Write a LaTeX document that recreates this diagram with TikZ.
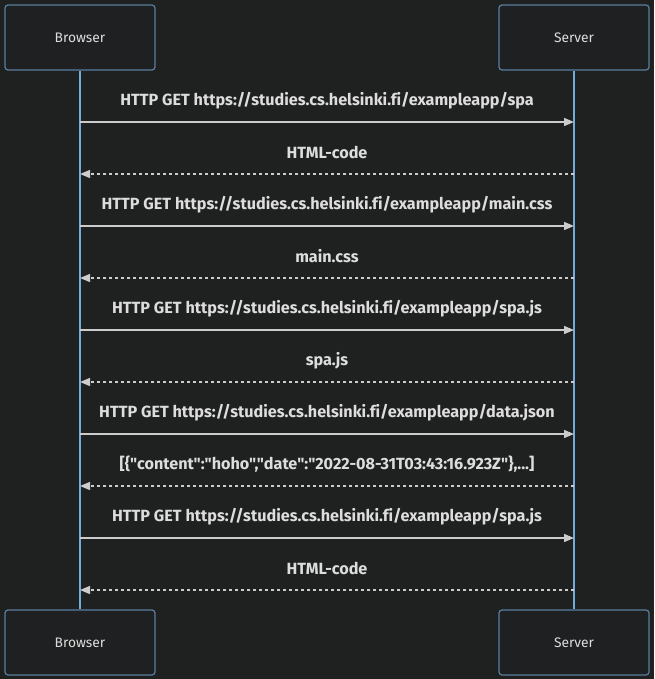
\documentclass[tikz,border=0pt]{standalone}
\usepackage{fontspec}
\setmainfont[Ligatures={TeXOff,NoCommon}]{Fira Sans}
\usetikzlibrary{arrows.meta}
\definecolor{bg}{HTML}{1F2020}
\definecolor{boxfill}{HTML}{1F2021}
\definecolor{boxline}{HTML}{5A7EA0}
\definecolor{life}{HTML}{74AADC}
\definecolor{msg}{HTML}{CCCCCC}
\definecolor{txt}{HTML}{DDDDDD}
\tikzset{
  actor/.style={draw=boxline, line width=1.2pt, fill=boxfill, rounded corners=3pt,
    minimum width=150pt, minimum height=65pt, inner sep=0pt, text=txt,
    font=\fontsize{13.8}{16}\selectfont},
  lifeline/.style={draw=life, line width=1.3pt},
  req/.style={draw=msg, line width=1.3pt, -{Triangle[length=10pt,width=8pt]}},
  resp/.style={draw=msg, line width=1.3pt, dash pattern=on 3pt off 3pt, -{Triangle[length=10pt,width=8pt]}},
  lbl/.style={text=txt, inner sep=0pt, font=\fontsize{16.2}{19}\selectfont\bfseries},
}
\begin{document}
\begin{tikzpicture}[x=1pt,y=-1pt]
\fill[bg] (0,0) rectangle (654,679);
\useasboundingbox (0,0) rectangle (654,679);
\node[actor] (bt) at (80,37.5) {Browser};
\node[actor] (st) at (574,37.5) {Server};
\node[actor] (bb) at (80,642.5) {Browser};
\node[actor] (sb) at (574,642.5) {Server};
\draw[lifeline] (bt.south) -- (bb.north);
\draw[lifeline] (st.south) -- (sb.north);
\foreach \i/\y/\t/\k in {
  1/122/{HTTP GET https://studies.cs.helsinki.fi/exampleapp/spa}/req,
  2/174/{HTML-code}/resp,
  3/226/{HTTP GET https://studies.cs.helsinki.fi/exampleapp/main.css}/req,
  4/278/{main.css}/resp,
  5/330/{HTTP GET https://studies.cs.helsinki.fi/exampleapp/spa.js}/req,
  6/382/{spa.js}/resp,
  7/434/{HTTP GET https://studies.cs.helsinki.fi/exampleapp/data.json}/req,
  8/486/{[\{"content":"hoho","date":"2022-08-31T03:43:16.923Z"\},.{}.{}.]}/resp,
  9/538/{HTTP GET https://studies.cs.helsinki.fi/exampleapp/spa.js}/req,
  10/590/{HTML-code}/resp}
{
  \coordinate (b\i) at (80,\y);
  \coordinate (s\i) at (574,\y);
  \node[lbl] (l\i) at (327,\y-21.5) {\t};
}
\foreach \i in {1,3,5,7,9} { \draw[req] (b\i) -- (s\i); }
\foreach \i in {2,4,6,8,10} { \draw[resp] (s\i) -- (b\i); }
\end{tikzpicture}
\end{document}
